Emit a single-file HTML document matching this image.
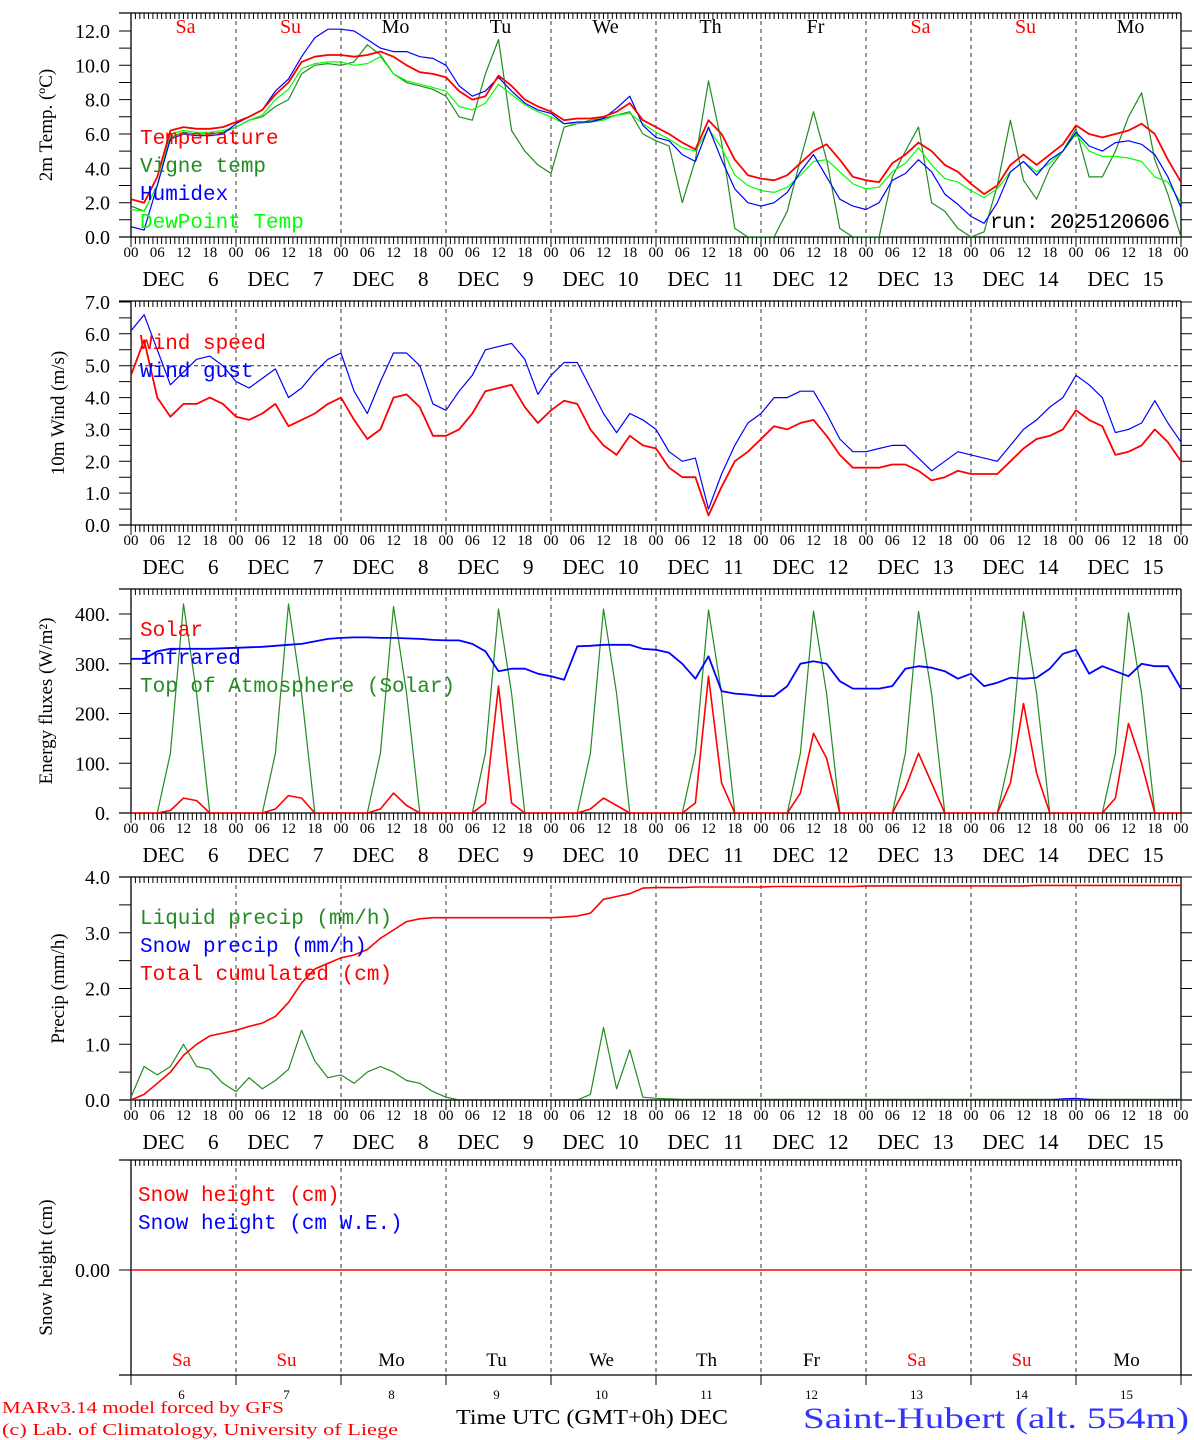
<!DOCTYPE html>
<html><head><meta charset="utf-8"><style>
html,body{margin:0;padding:0;background:#fff;}
svg{display:block;font-family:"Liberation Serif",serif;}
</style></head><body>
<svg id="chart" width="1194" height="1440" viewBox="0 0 1194 1440" xmlns="http://www.w3.org/2000/svg"></svg>
<script>
// ---- data (3-hourly, from 00 UTC Dec 6 to 00 UTC Dec 16) ----
const dayNames = ["Sa","Su","Mo","Tu","We","Th","Fr","Sa","Su","Mo"];
const dayNums = ["6","7","8","9","10","11","12","13","14","15"];
const tempValues = [2.2,2.0,3.5,6.2,6.4,6.3,6.3,6.4, 6.7,7.0,7.4,8.3,9.0,10.2,10.5,10.6, 10.6,10.5,10.6,10.8,10.5,10.0,9.6,9.5, 9.3,8.5,8.0,8.2,9.4,8.8,8.0,7.6, 7.3,6.8,6.9,6.9,7.0,7.3,7.8,6.8, 6.4,6.0,5.5,5.1,6.8,6.0,4.5,3.6, 3.4,3.3,3.6,4.3,5.0,5.4,4.5,3.5, 3.3,3.2,4.3,4.8,5.5,5.0,4.2,3.8, 3.1,2.5,3.0,4.2,4.8,4.2,4.8,5.4, 6.5,6.0,5.8,6.0,6.2,6.6,6.0,4.5,3.2];
const vigneValues = [1.8,1.5,3.0,5.8,6.1,6.0,6.0,6.1, 6.4,6.8,7.0,7.6,8.0,9.5,10.0,10.1, 10.0,10.2,11.2,10.6,9.5,9.0,8.8,8.6, 8.2,7.0,6.8,9.5,11.5,6.2,5.0,4.2, 3.7,6.4,6.6,6.8,6.9,7.1,7.3,6.0, 5.6,5.3,2.0,4.5,9.1,5.5,0.5,0.0, 0.0,0.0,1.5,4.5,7.3,4.5,0.5,0.0, 0.0,0.0,3.5,5.0,6.4,2.0,1.5,0.5, 0.0,0.3,3.0,6.8,3.3,2.2,4.0,5.0, 6.3,3.5,3.5,5.0,7.0,8.4,4.5,2.5,0.0];
const humidexValues = [0.6,0.4,3.0,5.7,6.0,5.9,5.9,6.0, 6.6,7.0,7.4,8.5,9.2,10.5,11.6,12.1, 12.1,12.0,11.5,11.0,10.8,10.8,10.5,10.4, 10.0,8.8,8.2,8.5,9.3,8.5,7.8,7.4, 7.2,6.6,6.7,6.7,6.9,7.5,8.2,6.5, 5.8,5.6,4.8,4.4,6.4,4.5,2.8,2.0, 1.8,2.0,2.6,3.8,4.8,3.5,2.2,1.8, 1.6,2.0,3.3,3.7,4.5,3.8,2.5,1.9, 1.2,0.8,2.0,3.8,4.4,3.6,4.5,5.0, 6.1,5.3,5.0,5.5,5.6,5.4,4.8,3.5,1.7];
const dewValues = [1.6,1.5,3.0,6.0,6.2,6.1,6.1,6.2, 6.4,6.8,7.1,8.0,8.6,9.8,10.1,10.2, 10.2,10.0,10.1,10.5,9.5,9.1,8.9,8.7, 8.5,7.6,7.4,7.8,8.9,8.3,7.7,7.3, 7.0,6.6,6.6,6.7,6.8,7.1,7.2,6.6, 6.1,5.7,5.2,5.0,6.3,5.2,3.6,3.0, 2.7,2.6,2.9,3.6,4.4,4.5,3.8,3.1, 2.8,2.9,3.8,4.3,5.2,4.2,3.4,3.2, 2.7,2.3,2.8,3.8,4.4,3.8,4.3,5.0, 6.0,5.0,4.7,4.7,4.6,4.4,3.5,3.2,2.0];
const windValues = [4.7,5.8,4.0,3.4,3.8,3.8,4.0,3.8, 3.4,3.3,3.5,3.8,3.1,3.3,3.5,3.8, 4.0,3.3,2.7,3.0,4.0,4.1,3.7,2.8, 2.8,3.0,3.5,4.2,4.3,4.4,3.7,3.2, 3.6,3.9,3.8,3.0,2.5,2.2,2.8,2.5, 2.4,1.8,1.5,1.5,0.3,1.2,2.0,2.3, 2.7,3.1,3.0,3.2,3.3,2.8,2.2,1.8, 1.8,1.8,1.9,1.9,1.7,1.4,1.5,1.7, 1.6,1.6,1.6,2.0,2.4,2.7,2.8,3.0, 3.6,3.3,3.1,2.2,2.3,2.5,3.0,2.6,2.0];
const gustValues = [6.1,6.6,5.5,4.4,4.8,5.2,5.3,5.0, 4.5,4.3,4.6,4.9,4.0,4.3,4.8,5.2, 5.4,4.2,3.5,4.5,5.4,5.4,5.0,3.8, 3.6,4.2,4.7,5.5,5.6,5.7,5.2,4.1, 4.7,5.1,5.1,4.3,3.5,2.9,3.5,3.3, 3.0,2.3,2.0,2.1,0.5,1.6,2.5,3.2, 3.5,4.0,4.0,4.2,4.2,3.5,2.7,2.3, 2.3,2.4,2.5,2.5,2.1,1.7,2.0,2.3, 2.2,2.1,2.0,2.5,3.0,3.3,3.7,4.0, 4.7,4.4,4.0,2.9,3.0,3.2,3.9,3.2,2.6];
const solarValues = [0,0,0,5,30,25,0,0, 0,0,0,8,35,30,0,0, 0,0,0,8,40,15,0,0, 0,0,0,20,255,20,0,0, 0,0,0,8,30,15,0,0, 0,0,0,20,275,60,0,0, 0,0,0,40,160,110,0,0, 0,0,0,50,120,60,0,0, 0,0,0,60,220,80,0,0, 0,0,0,30,180,100,0,0,0];
const infraredValues = [310,310,325,330,330,330,330,331, 332,333,334,336,338,340,345,350, 352,353,353,352,352,351,350,348, 347,347,340,325,285,290,290,280, 275,268,335,336,338,338,338,330, 328,322,300,270,315,245,240,238, 235,235,255,300,305,300,265,250, 250,250,255,290,295,292,285,270, 280,255,262,272,270,272,290,320, 328,280,295,285,275,300,295,295,250];
const toaValues = [0,0,0,120,420,240,0,0, 0,0,0,120,420,240,0,0, 0,0,0,120,415,240,0,0, 0,0,0,120,410,240,0,0, 0,0,0,120,410,240,0,0, 0,0,0,120,408,240,0,0, 0,0,0,120,406,240,0,0, 0,0,0,120,405,240,0,0, 0,0,0,120,404,240,0,0, 0,0,0,120,402,240,0,0,0];
const liquidValues = [0.05,0.6,0.45,0.6,1.0,0.6,0.55,0.3, 0.15,0.4,0.2,0.35,0.55,1.25,0.7,0.4, 0.45,0.3,0.5,0.6,0.5,0.35,0.3,0.15, 0.05,0,0,0,0,0,0,0, 0,0,0,0.1,1.3,0.2,0.9,0.05, 0.03,0.02,0.01,0.01,0.01,0.01,0.01,0.01, 0.01,0.01,0.01,0.01,0.01,0.01,0.01,0.01, 0.01,0.01,0.01,0.01,0.01,0.01,0.01,0.01, 0.01,0.01,0.01,0.01,0.01,0.01,0.01,0.01, 0.01,0.01,0.01,0.01,0.01,0.01,0.01,0.01,0.01];
const snowPrecipValues = [0,0,0,0,0,0,0,0, 0,0,0,0,0,0,0,0, 0,0,0,0,0,0,0,0, 0,0,0,0,0,0,0,0, 0,0,0,0,0,0,0,0, 0,0,0,0,0,0,0,0, 0,0,0,0,0,0,0,0, 0,0,0,0,0,0,0,0, 0,0,0,0,0,0,0,0.02, 0.03,0.01,0,0,0,0,0,0,0];
const cumulValues = [0,0.1,0.3,0.5,0.8,1.0,1.15,1.2, 1.25,1.32,1.38,1.5,1.75,2.1,2.35,2.45, 2.55,2.6,2.7,2.9,3.05,3.2,3.25,3.27, 3.27,3.27,3.27,3.27,3.27,3.27,3.27,3.27, 3.27,3.28,3.3,3.35,3.6,3.65,3.7,3.8, 3.81,3.81,3.81,3.82,3.82,3.82,3.82,3.82, 3.82,3.83,3.83,3.83,3.83,3.83,3.83,3.83, 3.84,3.84,3.84,3.84,3.84,3.84,3.84,3.84, 3.84,3.84,3.84,3.84,3.84,3.85,3.85,3.85, 3.85,3.85,3.85,3.85,3.85,3.85,3.85,3.85,3.85];
const snowHeightValues = [0,0,0,0,0,0,0,0,0,0,0];
const stepHours = 3;

const svg = document.getElementById('chart');
const NS = 'http://www.w3.org/2000/svg';
const X0 = 131, X1 = 1181, HOURS = 240;
function xs(h){ return X0 + h*(X1-X0)/HOURS; }
function mk(tag, attrs, parent){ const e=document.createElementNS(NS,tag); for(const k in attrs) e.setAttribute(k,attrs[k]); (parent||svg).appendChild(e); return e; }
function txt(s, attrs, parent){ const e=mk('text',attrs,parent); e.textContent=s; return e; }

const panels = [
 {name:'temperature', top:13, bot:237, y0:237, k:17.17, tickStep:2, minor:1, tickMax:12, fmt:v=>v.toFixed(1), title:'2m Temp. (ºC)', titleX:52},
 {name:'wind', top:301, bot:525, y0:525, k:31.86, tickStep:1, minor:0.5, tickMax:7, fmt:v=>v.toFixed(1), title:'10m Wind (m/s)', titleX:64},
 {name:'energy', top:589, bot:813, y0:813, k:0.4975, tickStep:100, minor:50, tickMax:400, fmt:v=>v+'.', title:'Energy fluxes (W/m²)', titleX:52},
 {name:'precip', top:877, bot:1100, y0:1100, k:55.75, tickStep:1, minor:0.5, tickMax:4, fmt:v=>v.toFixed(1), title:'Precip (mm/h)', titleX:64},
 {name:'snow', top:1160, bot:1375, y0:1270, k:100, tickStep:1, minor:1, tickMax:0, fmt:v=>v.toFixed(2), title:'Snow height (cm)', titleX:52}
];

function drawAxes(p, idx){
  const g = mk('g',{});
  
  
  for(let d=1; d<10; d++){
    const l=mk('line',{x1:xs(d*24),x2:xs(d*24),y1:p.top,y2:p.bot,stroke:'#333','stroke-width':1,'stroke-dasharray':'4,4'},g);
    
    
  }
  mk('line',{x1:119,x2:X1,y1:p.top,y2:p.top,stroke:'#000','stroke-width':1.3},g);
  mk('line',{x1:119,x2:X1+11,y1:p.bot,y2:p.bot,stroke:'#000','stroke-width':1.3},g);
  mk('line',{x1:X0,x2:X0,y1:p.top,y2:p.bot,stroke:'#000','stroke-width':1.3},g);
  mk('line',{x1:X1,x2:X1,y1:p.top,y2:p.bot,stroke:'#000','stroke-width':1.3},g);
  if(idx<4){
    let d='';
    for(let h=0; h<=HOURS; h++){
      const x=xs(h).toFixed(1);
      d+='M'+x+' '+p.top+'v6 M'+x+' '+p.bot+'v'+(h%24==0?10:7)+' ';
    }
    mk('path',{d:d,stroke:'#000','stroke-width':1,fill:'none'},g);
    let yd='';
    for(let v=0; v<=p.tickMax+1e-6 && p.y0-v*p.k>=p.top-1; v+=p.minor){
      const y=(p.y0-v*p.k).toFixed(1);
      yd+='M119 '+y+'h12 M'+X1+' '+y+'h11 ';
    }
    mk('path',{d:yd,stroke:'#000','stroke-width':1,fill:'none'},g);
    for(let v=0; v<=p.tickMax+1e-6; v+=p.tickStep){
      const t=txt(p.fmt(v),{x:110,y:p.y0-v*p.k+7,'text-anchor':'end','font-size':20},g);
      
      
    }
    for(let h=0; h<=HOURS; h+=6){
      const hh=String(h%24).padStart(2,'0');
      const t=txt(hh,{x:xs(h),y:p.bot+20,'text-anchor':'middle','font-size':15},g);
      
      
    }
    for(let d=0; d<10; d++){
      const cx=xs(d*24+12)-3;
      const a=txt('DEC',{x:cx-38,y:p.bot+49,'font-size':21,textLength:42},g);
      
      
      const b=txt(dayNums[d],{x:cx+38,y:p.bot+49,'text-anchor':'end','font-size':21},g);
      
      
    }
  } else {
    let d='';
    for(let h=0; h<=HOURS; h++){ const x=xs(h).toFixed(1); d+='M'+x+' '+p.top+'v6 '; }
    for(let h=0; h<=HOURS; h+=24){ d+='M'+xs(h).toFixed(1)+' '+p.bot+'v10 '; }
    d+='M119 '+p.y0+'h12 M'+X1+' '+p.y0+'h11';
    mk('path',{d:d,stroke:'#000','stroke-width':1,fill:'none'},g);
    const t=txt('0.00',{x:110,y:p.y0+7,'text-anchor':'end','font-size':20},g);
    
    
    for(let dd=0; dd<10; dd++){
      const w=(dd==0||dd==1||dd==7||dd==8)?'#ff0000':'#000';
      const a=txt(dayNames[dd],{x:xs(dd*24+12)-2,y:1366,'text-anchor':'middle','font-size':19,fill:w},g);
      
      
      const b=txt(dayNums[dd],{x:xs(dd*24+12)-2,y:1399,'text-anchor':'middle','font-size':13},g);
      
      
    }
  }
  const cy=(p.top+p.bot)/2;
  const tt=txt(p.title,{x:p.titleX,y:cy,'text-anchor':'middle','font-size':19,transform:'rotate(-90 '+p.titleX+' '+cy+')'},g);
  
  
  const cp=mk('clipPath',{id:'clip'+idx},g);
  mk('rect',{x:X0,y:p.top,width:X1-X0,height:p.bot-p.top},cp);
}

function series(p, idx, vals, color, width, name){
  let d='';
  vals.forEach((v,i)=>{ const x=xs(i*stepHours), y=p.y0-v*p.k; d+=(i?'L':'M')+x.toFixed(1)+' '+y.toFixed(1); });
  const e=mk('path',{d:d,fill:'none',stroke:color,'stroke-width':width,'stroke-linejoin':'round','clip-path':'url(#clip'+idx+')'});
  
  
}
function legend(s, x, y, color, size){
  const t=txt(s,{x:x,y:y,fill:color,'font-size':size||21,'font-family':'"Liberation Mono",monospace'});
  
  
}

panels.forEach((p,i)=>drawAxes(p,i));

for(let d=0; d<10; d++){
  const w=(d==0||d==1||d==7||d==8)?'#ff0000':'#000';
  const t=txt(dayNames[d],{x:xs(d*24+12)+2,y:33,'text-anchor':'middle','font-size':20,fill:w});
  
  
}
const ref=mk('line',{x1:X0,x2:X1,y1:525-5*31.86,y2:525-5*31.86,stroke:'#333','stroke-dasharray':'4,3','stroke-width':1});



const P=panels;
series(P[0],0,vigneValues,'#228b22',1.2,'vigne-temp-line');
series(P[0],0,dewValues,'#00ff00',1.2,'dewpoint-line');
series(P[0],0,humidexValues,'#0000ff',1.2,'humidex-line');
series(P[0],0,tempValues,'#ff0000',1.8,'temperature-line');
series(P[1],1,gustValues,'#0000ff',1.2,'wind-gust-line');
series(P[1],1,windValues,'#ff0000',1.8,'wind-speed-line');
series(P[2],2,toaValues,'#228b22',1.2,'toa-solar-line');
series(P[2],2,infraredValues,'#0000ff',1.8,'infrared-line');
series(P[2],2,solarValues,'#ff0000',1.6,'solar-line');
series(P[3],3,liquidValues,'#228b22',1.2,'liquid-precip-line');
series(P[3],3,snowPrecipValues,'#0000ff',1.2,'snow-precip-line');
series(P[3],3,cumulValues,'#ff0000',1.6,'cumulated-precip-line');
(function(){
  let d=''; snowHeightValues.forEach((v,i)=>{ d+=(i?'L':'M')+xs(i*24).toFixed(1)+' '+(P[4].y0-v*P[4].k).toFixed(1); });
  const e=mk('path',{d:d,fill:'none',stroke:'#ff0000','stroke-width':1.4});
  
  
})();

legend('Temperature',140,144,'#ff0000');
legend('Vigne temp',140,172,'#228b22');
legend('Humidex',140,200,'#0000ff');
legend('DewPoint Temp',140,228,'#00ff00');
legend('Wind speed',140,349,'#ff0000');
legend('Wind gust',140,377,'#0000ff');
legend('Solar',140,636,'#ff0000');
legend('Infrared',140,664,'#0000ff');
legend('Top of Atmosphere (Solar)',140,692,'#228b22');
legend('Liquid precip (mm/h)',140,924,'#228b22');
legend('Snow precip (mm/h)',140,952,'#0000ff');
legend('Total cumulated (cm)',140,980,'#ff0000');
legend('Snow height (cm)',138,1201,'#ff0000');
legend('Snow height (cm W.E.)',138,1229,'#0000ff');

const run=txt('run: 2025120606',{x:990,y:228,'font-size':21,'font-family':'"Liberation Mono",monospace',textLength:180});



const f1=txt('MARv3.14 model forced by GFS',{x:2,y:1413,'font-size':17,fill:'#ff0000',textLength:282,lengthAdjust:'spacingAndGlyphs'});


const f2=txt('(c) Lab. of Climatology, University of Liege',{x:2,y:1435,'font-size':17,fill:'#ff0000',textLength:396,lengthAdjust:'spacingAndGlyphs'});


const xt=txt('Time UTC (GMT+0h) DEC',{x:456,y:1424,'font-size':21,textLength:272,lengthAdjust:'spacingAndGlyphs'});


const st=txt('Saint-Hubert (alt. 554m)',{x:803,y:1428,'font-size':30,fill:'#3333ff',textLength:386,lengthAdjust:'spacingAndGlyphs'});


</script>
</body></html>
